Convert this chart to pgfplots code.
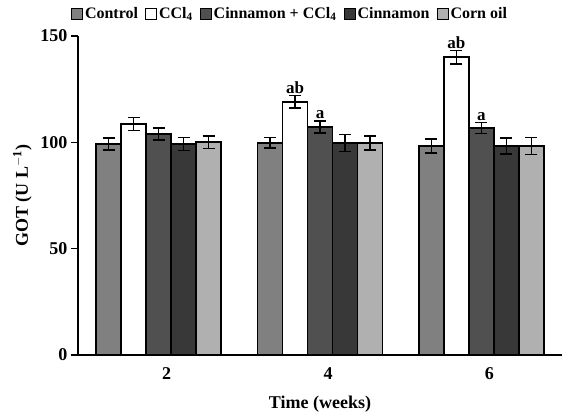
\documentclass[border=0pt]{standalone}
\usepackage{pgfplots}
\pgfplotsset{compat=1.18}
\usepackage{fontspec}
\setmainfont{Liberation Serif}

\definecolor{cctrl}{HTML}{808080}
\definecolor{cmix}{HTML}{505050}
\definecolor{ccin}{HTML}{383838}
\definecolor{ccorn}{HTML}{B0B0B0}

\begin{document}
\begin{tikzpicture}
\fontsize{16}{19}\selectfont\bfseries
\begin{axis}[
    scale only axis,
    width=484pt, height=319pt,
    ybar=0pt, bar width=25pt,
    xmin=-0.5, xmax=2.5,
    ymin=0, ymax=150,
    axis lines*=left,
    axis line style={line width=1.6pt},
    xtick={0,1,2}, xticklabels={2,4,6},
    major x tick style={draw=none},
    xticklabel style={xshift=8pt},
    extra x ticks={0.5,1.5,2.5}, extra x tick labels={},
    extra x tick style={tick style={line width=1.6pt, draw=black}, major tick length=7pt, tick align=outside},
    ytick={0,50,100,150},
    y tick style={line width=1.6pt, black},
    tick align=outside, major tick length=7pt,
    /pgf/number format/assume math mode=true,
    ticklabel style={font=\fontsize{18}{21}\selectfont\bfseries},
    yticklabel style={xshift=2pt},
    xlabel={Time (weeks)},
    ylabel={GOT (U L\textsuperscript{$-$1})},
    xlabel style={yshift=8pt, font=\fontsize{18}{21}\selectfont\bfseries},
    ylabel style={yshift=-2pt, font=\fontsize{18}{21}\selectfont\bfseries},
    every axis plot/.append style={draw=black, line width=1.6pt},
    error bars/y dir=both, error bars/y explicit,
    error bars/error bar style={line width=1.6pt, black},
    error bars/error mark options={rotate=90, mark size=6pt, line width=1.6pt, black},
    legend columns=5,
    legend style={draw=none, at={(0.438,1.0)}, anchor=south, yshift=12pt, inner sep=1pt,
        font=\fontsize{16}{19}\selectfont\bfseries,
        /tikz/every even column/.append style={column sep=5pt}},
    legend image code/.code={\draw[#1, line width=1pt] (0pt,-5pt) rectangle (11pt,6pt);},
]
\addplot[fill=cctrl] coordinates {(0,99.2) +- (0,2.8) (1,99.7) +- (0,2.5) (2,98.3) +- (0,3.2)};
\addplot[fill=white] coordinates {(0,108.6) +- (0,3.0) (1,119.0) +- (0,3.0) (2,140.0) +- (0,3.2)};
\addplot[fill=cmix] coordinates {(0,103.9) +- (0,2.8) (1,107.2) +- (0,2.8) (2,106.7) +- (0,2.6)};
\addplot[fill=ccin] coordinates {(0,99.2) +- (0,3.0) (1,99.7) +- (0,4.0) (2,98.3) +- (0,3.8)};
\addplot[fill=ccorn] coordinates {(0,100.1) +- (0,3.0) (1,99.7) +- (0,3.2) (2,98.3) +- (0,4.0)};
\legend{Control, CCl\textsubscript{4}, Cinnamon + CCl\textsubscript{4}, Cinnamon, Corn oil}
\node[anchor=south, inner sep=1pt, font=\fontsize{17}{20}\selectfont\bfseries] at ([xshift=-25pt]axis cs:1,122.5) {ab};
\node[anchor=south, inner sep=1pt, font=\fontsize{17}{20}\selectfont\bfseries] at ([xshift=-25pt]axis cs:2,143.5) {ab};
\node[anchor=south, inner sep=1pt, font=\fontsize{17}{20}\selectfont\bfseries] at (axis cs:1,110.5) {a};
\node[anchor=south, inner sep=1pt, font=\fontsize{17}{20}\selectfont\bfseries] at (axis cs:2,109.8) {a};
\end{axis}
\pgfresetboundingbox
\useasboundingbox ([xshift=-78pt,yshift=-64pt]current axis.south west) rectangle ([xshift=16pt,yshift=36pt]current axis.north east);
\end{tikzpicture}
\end{document}
